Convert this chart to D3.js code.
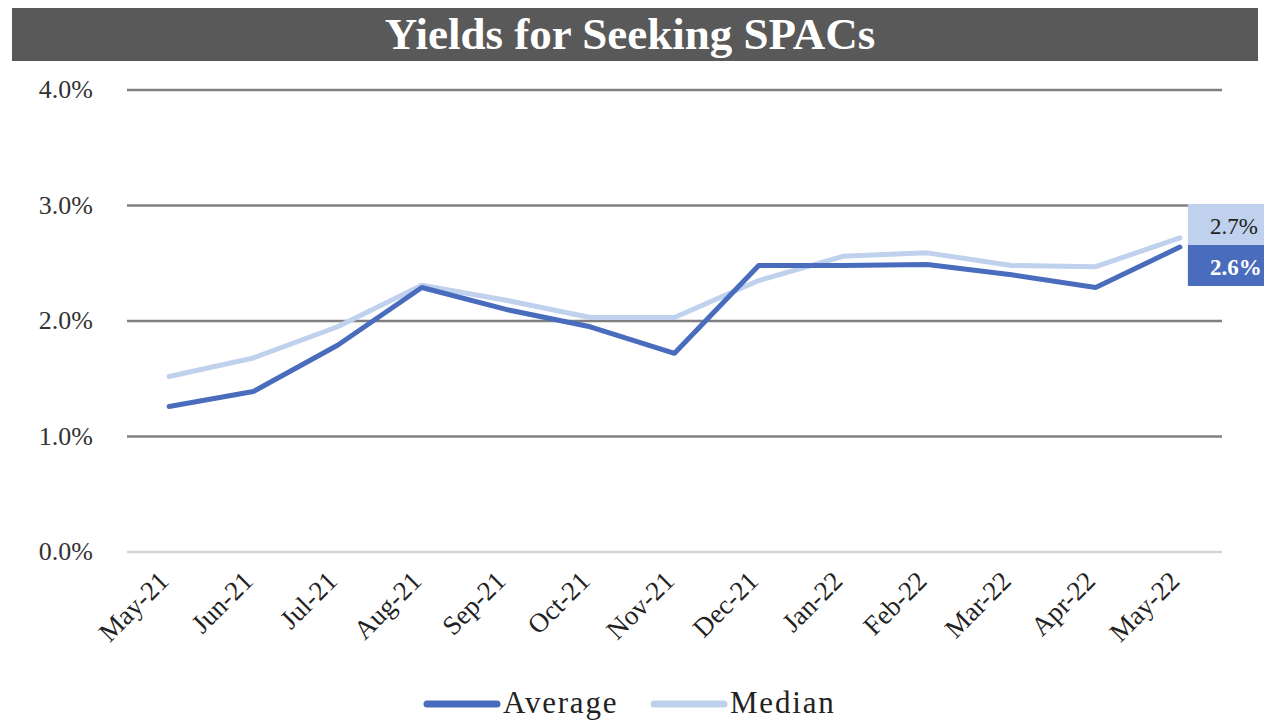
<!DOCTYPE html>
<html>
<head>
<meta charset="utf-8">
<script src="https://cdn.jsdelivr.net/npm/d3@7"></script>
<style>
  html, body { margin: 0; padding: 0; background: #fff; }
  svg { display: block; }
</style>
</head>
<body>
<svg id="chart" width="1264" height="720"></svg>
<script>
// Monthly yields (%) for SPACs still seeking a target
const months = ["May-21","Jun-21","Jul-21","Aug-21","Sep-21","Oct-21","Nov-21",
                "Dec-21","Jan-22","Feb-22","Mar-22","Apr-22","May-22"];
const averageYield = [1.26, 1.39, 1.79, 2.29, 2.10, 1.95, 1.72, 2.48, 2.48, 2.49, 2.40, 2.29, 2.64];
const medianYield  = [1.52, 1.68, 1.95, 2.31, 2.18, 2.03, 2.03, 2.35, 2.56, 2.59, 2.48, 2.47, 2.72];
const yTicks = [0, 1, 2, 3, 4];
const seriesNames = ["Average", "Median"];

(function () {
const svg = d3.select("#chart");
const serif = "'Liberation Serif', 'DejaVu Serif', serif";
const colors = { Average: "#4a6cbd", Median: "#bfd1ed" };

// Title band
svg.append("rect").attr("x", 12).attr("y", 8).attr("width", 1246).attr("height", 53).attr("fill", "#595959");
svg.append("text").attr("x", 630).attr("y", 49).attr("text-anchor", "middle")
  .attr("fill", "#fff").attr("font-family", serif).attr("font-weight", "bold")
  .attr("font-size", 45).text("Yields for Seeking SPACs");

const plotLeft = 127, plotRight = 1222, plotTop = 90, plotBottom = 552;

const x = d3.scalePoint().domain(months).range([plotLeft, plotRight]).padding(0.5);
const y = d3.scaleLinear().domain([0, 4]).range([plotBottom, plotTop]);

// Horizontal gridlines
svg.append("g").selectAll("line").data(yTicks).join("line")
  .attr("x1", plotLeft).attr("x2", plotRight)
  .attr("y1", d => y(d)).attr("y2", d => y(d))
  .attr("stroke", d => d === 0 ? "#d4d4d4" : "#7f7f7f")
  .attr("stroke-width", 2.5);

// Y axis labels
svg.append("g").selectAll("text").data(yTicks).join("text")
  .attr("x", 93).attr("y", d => y(d) + 8)
  .attr("text-anchor", "end").attr("font-family", serif).attr("font-size", 26)
  .attr("fill", "#333").text(d => d.toFixed(1) + "%");

// X axis labels, rotated
const xAxis = d3.axisBottom(x).tickSize(0).tickPadding(0);
const gx = svg.append("g").attr("transform", `translate(-6, ${plotBottom + 24})`).call(xAxis);
gx.select(".domain").remove();
gx.selectAll("text")
  .attr("font-family", serif).attr("font-size", 27).attr("fill", "#222")
  .attr("text-anchor", "end").attr("dy", "0.35em")
  .attr("transform", "rotate(-45)");

// Series lines
const line = d3.line().x((d, i) => x(months[i])).y(d => y(d));
const series = [
  { name: "Median", values: medianYield },
  { name: "Average", values: averageYield }
];
svg.append("g").selectAll("path").data(series).join("path")
  .attr("d", d => line(d.values))
  .attr("fill", "none")
  .attr("stroke", d => colors[d.name])
  .attr("stroke-width", 5)
  .attr("stroke-linejoin", "round")
  .attr("stroke-linecap", "round");

// End-of-series value labels
const fmt = v => v.toFixed(1) + "%";
const lastMed = medianYield[medianYield.length - 1];
const lastAvg = averageYield[averageYield.length - 1];
const lx = x(months[months.length - 1]) + 8;
svg.append("rect").attr("x", lx).attr("y", 204).attr("width", 90).attr("height", 41).attr("fill", colors.Median);
svg.append("text").attr("x", lx + 22).attr("y", 234).attr("font-family", serif).attr("font-size", 23)
  .attr("fill", "#222").text(fmt(lastMed));
svg.append("rect").attr("x", lx).attr("y", 245).attr("width", 90).attr("height", 41).attr("fill", colors.Average);
svg.append("text").attr("x", lx + 22).attr("y", 275).attr("font-family", serif).attr("font-size", 23)
  .attr("font-weight", "bold").attr("fill", "#fff").text(fmt(lastAvg));

// Legend
const legend = svg.append("g");
const legendItems = [
  { name: seriesNames[0], x: 427 },
  { name: seriesNames[1], x: 654 }
];
legendItems.forEach(it => {
  legend.append("line").attr("x1", it.x).attr("x2", it.x + 70).attr("y1", 704).attr("y2", 704)
    .attr("stroke", colors[it.name]).attr("stroke-width", 7).attr("stroke-linecap", "round");
  legend.append("text").attr("x", it.x + 76).attr("y", 713).attr("font-family", serif)
    .attr("font-size", 31).attr("letter-spacing", 1.8).attr("fill", "#222").text(it.name);
});
})();
</script>
</body>
</html>
